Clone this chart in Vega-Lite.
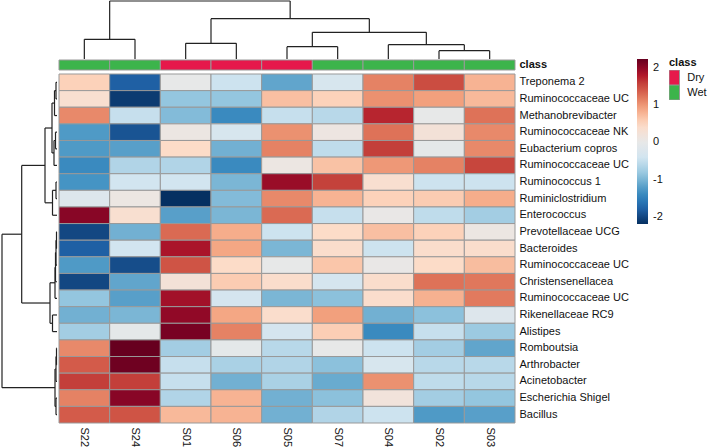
{
  "$schema": "https://vega.github.io/schema/vega-lite/v6.json",
  "width": 515,
  "height": 423,
  "autosize": "none",
  "padding": {"left": 0, "top": 0, "right": 193, "bottom": 24},
  "background": "white",
  "config": {
    "view": {"stroke": null},
    "font": "Liberation Sans"
  },
  "datasets": {
    "cells": [
      {"taxon": "Treponema 2", "sample": "S22", "value": 0.55},
      {"taxon": "Treponema 2", "sample": "S24", "value": -1.8},
      {"taxon": "Treponema 2", "sample": "S01", "value": 0.0},
      {"taxon": "Treponema 2", "sample": "S06", "value": -0.45},
      {"taxon": "Treponema 2", "sample": "S05", "value": -1.15},
      {"taxon": "Treponema 2", "sample": "S07", "value": -0.3},
      {"taxon": "Treponema 2", "sample": "S04", "value": 1.15},
      {"taxon": "Treponema 2", "sample": "S02", "value": 1.5},
      {"taxon": "Treponema 2", "sample": "S03", "value": 0.8},
      {"taxon": "Ruminococcaceae UC|1", "sample": "S22", "value": 0.35},
      {"taxon": "Ruminococcaceae UC|1", "sample": "S24", "value": -2.1},
      {"taxon": "Ruminococcaceae UC|1", "sample": "S01", "value": -0.85},
      {"taxon": "Ruminococcaceae UC|1", "sample": "S06", "value": -0.85},
      {"taxon": "Ruminococcaceae UC|1", "sample": "S05", "value": 0.7},
      {"taxon": "Ruminococcaceae UC|1", "sample": "S07", "value": 0.55},
      {"taxon": "Ruminococcaceae UC|1", "sample": "S04", "value": 1.05},
      {"taxon": "Ruminococcaceae UC|1", "sample": "S02", "value": 0.95},
      {"taxon": "Ruminococcaceae UC|1", "sample": "S03", "value": 0.75},
      {"taxon": "Methanobrevibacter", "sample": "S22", "value": 1.1},
      {"taxon": "Methanobrevibacter", "sample": "S24", "value": -0.5},
      {"taxon": "Methanobrevibacter", "sample": "S01", "value": -0.95},
      {"taxon": "Methanobrevibacter", "sample": "S06", "value": -1.4},
      {"taxon": "Methanobrevibacter", "sample": "S05", "value": -0.5},
      {"taxon": "Methanobrevibacter", "sample": "S07", "value": -0.6},
      {"taxon": "Methanobrevibacter", "sample": "S04", "value": 1.75},
      {"taxon": "Methanobrevibacter", "sample": "S02", "value": 0.0},
      {"taxon": "Methanobrevibacter", "sample": "S03", "value": 1.25},
      {"taxon": "Ruminococcaceae NK", "sample": "S22", "value": -1.25},
      {"taxon": "Ruminococcaceae NK", "sample": "S24", "value": -1.9},
      {"taxon": "Ruminococcaceae NK", "sample": "S01", "value": 0.1},
      {"taxon": "Ruminococcaceae NK", "sample": "S06", "value": -0.3},
      {"taxon": "Ruminococcaceae NK", "sample": "S05", "value": 1.05},
      {"taxon": "Ruminococcaceae NK", "sample": "S07", "value": 0.12},
      {"taxon": "Ruminococcaceae NK", "sample": "S04", "value": 1.25},
      {"taxon": "Ruminococcaceae NK", "sample": "S02", "value": 0.25},
      {"taxon": "Ruminococcaceae NK", "sample": "S03", "value": 1.1},
      {"taxon": "Eubacterium copros", "sample": "S22", "value": -1.25},
      {"taxon": "Eubacterium copros", "sample": "S24", "value": -1.2},
      {"taxon": "Eubacterium copros", "sample": "S01", "value": 0.45},
      {"taxon": "Eubacterium copros", "sample": "S06", "value": -1.05},
      {"taxon": "Eubacterium copros", "sample": "S05", "value": 1.15},
      {"taxon": "Eubacterium copros", "sample": "S07", "value": -0.55},
      {"taxon": "Eubacterium copros", "sample": "S04", "value": 1.6},
      {"taxon": "Eubacterium copros", "sample": "S02", "value": -0.05},
      {"taxon": "Eubacterium copros", "sample": "S03", "value": 1.1},
      {"taxon": "Ruminococcaceae UC|2", "sample": "S22", "value": -1.4},
      {"taxon": "Ruminococcaceae UC|2", "sample": "S24", "value": -0.65},
      {"taxon": "Ruminococcaceae UC|2", "sample": "S01", "value": -0.65},
      {"taxon": "Ruminococcaceae UC|2", "sample": "S06", "value": -1.4},
      {"taxon": "Ruminococcaceae UC|2", "sample": "S05", "value": 0.1},
      {"taxon": "Ruminococcaceae UC|2", "sample": "S07", "value": 0.68},
      {"taxon": "Ruminococcaceae UC|2", "sample": "S04", "value": 1.0},
      {"taxon": "Ruminococcaceae UC|2", "sample": "S02", "value": 1.15},
      {"taxon": "Ruminococcaceae UC|2", "sample": "S03", "value": 1.55},
      {"taxon": "Ruminococcus 1", "sample": "S22", "value": -1.3},
      {"taxon": "Ruminococcus 1", "sample": "S24", "value": -0.4},
      {"taxon": "Ruminococcus 1", "sample": "S01", "value": -0.4},
      {"taxon": "Ruminococcus 1", "sample": "S06", "value": -1.0},
      {"taxon": "Ruminococcus 1", "sample": "S05", "value": 1.95},
      {"taxon": "Ruminococcus 1", "sample": "S07", "value": 1.58},
      {"taxon": "Ruminococcus 1", "sample": "S04", "value": 0.35},
      {"taxon": "Ruminococcus 1", "sample": "S02", "value": -0.45},
      {"taxon": "Ruminococcus 1", "sample": "S03", "value": -0.45},
      {"taxon": "Ruminiclostridium", "sample": "S22", "value": -0.2},
      {"taxon": "Ruminiclostridium", "sample": "S24", "value": 0.1},
      {"taxon": "Ruminiclostridium", "sample": "S01", "value": -2.2},
      {"taxon": "Ruminiclostridium", "sample": "S06", "value": -0.95},
      {"taxon": "Ruminiclostridium", "sample": "S05", "value": 1.1},
      {"taxon": "Ruminiclostridium", "sample": "S07", "value": 0.8},
      {"taxon": "Ruminiclostridium", "sample": "S04", "value": 0.55},
      {"taxon": "Ruminiclostridium", "sample": "S02", "value": 0.6},
      {"taxon": "Ruminiclostridium", "sample": "S03", "value": 0.85},
      {"taxon": "Enterococcus", "sample": "S22", "value": 2.05},
      {"taxon": "Enterococcus", "sample": "S24", "value": 0.35},
      {"taxon": "Enterococcus", "sample": "S01", "value": -1.2},
      {"taxon": "Enterococcus", "sample": "S06", "value": -1.0},
      {"taxon": "Enterococcus", "sample": "S05", "value": 1.3},
      {"taxon": "Enterococcus", "sample": "S07", "value": -0.5},
      {"taxon": "Enterococcus", "sample": "S04", "value": 0.05},
      {"taxon": "Enterococcus", "sample": "S02", "value": -0.55},
      {"taxon": "Enterococcus", "sample": "S03", "value": -0.75},
      {"taxon": "Prevotellaceae UCG", "sample": "S22", "value": -2.0},
      {"taxon": "Prevotellaceae UCG", "sample": "S24", "value": -1.05},
      {"taxon": "Prevotellaceae UCG", "sample": "S01", "value": 1.3},
      {"taxon": "Prevotellaceae UCG", "sample": "S06", "value": 0.85},
      {"taxon": "Prevotellaceae UCG", "sample": "S05", "value": -0.45},
      {"taxon": "Prevotellaceae UCG", "sample": "S07", "value": 0.45},
      {"taxon": "Prevotellaceae UCG", "sample": "S04", "value": 0.7},
      {"taxon": "Prevotellaceae UCG", "sample": "S02", "value": 0.55},
      {"taxon": "Prevotellaceae UCG", "sample": "S03", "value": 0.1},
      {"taxon": "Bacteroides", "sample": "S22", "value": -1.8},
      {"taxon": "Bacteroides", "sample": "S24", "value": -0.4},
      {"taxon": "Bacteroides", "sample": "S01", "value": 1.85},
      {"taxon": "Bacteroides", "sample": "S06", "value": 0.9},
      {"taxon": "Bacteroides", "sample": "S05", "value": -1.0},
      {"taxon": "Bacteroides", "sample": "S07", "value": 0.4},
      {"taxon": "Bacteroides", "sample": "S04", "value": -0.45},
      {"taxon": "Bacteroides", "sample": "S02", "value": 0.4},
      {"taxon": "Bacteroides", "sample": "S03", "value": 0.4},
      {"taxon": "Ruminococcaceae UC|3", "sample": "S22", "value": -1.25},
      {"taxon": "Ruminococcaceae UC|3", "sample": "S24", "value": -1.95},
      {"taxon": "Ruminococcaceae UC|3", "sample": "S01", "value": 1.45},
      {"taxon": "Ruminococcaceae UC|3", "sample": "S06", "value": 0.45},
      {"taxon": "Ruminococcaceae UC|3", "sample": "S05", "value": 0.0},
      {"taxon": "Ruminococcaceae UC|3", "sample": "S07", "value": 0.65},
      {"taxon": "Ruminococcaceae UC|3", "sample": "S04", "value": 0.05},
      {"taxon": "Ruminococcaceae UC|3", "sample": "S02", "value": 0.45},
      {"taxon": "Ruminococcaceae UC|3", "sample": "S03", "value": 0.72},
      {"taxon": "Christensenellacea", "sample": "S22", "value": -2.0},
      {"taxon": "Christensenellacea", "sample": "S24", "value": -1.15},
      {"taxon": "Christensenellacea", "sample": "S01", "value": 0.25},
      {"taxon": "Christensenellacea", "sample": "S06", "value": 0.6},
      {"taxon": "Christensenellacea", "sample": "S05", "value": 0.4},
      {"taxon": "Christensenellacea", "sample": "S07", "value": -0.35},
      {"taxon": "Christensenellacea", "sample": "S04", "value": 0.4},
      {"taxon": "Christensenellacea", "sample": "S02", "value": 1.25},
      {"taxon": "Christensenellacea", "sample": "S03", "value": 1.22},
      {"taxon": "Ruminococcaceae UC|4", "sample": "S22", "value": -0.85},
      {"taxon": "Ruminococcaceae UC|4", "sample": "S24", "value": -1.2},
      {"taxon": "Ruminococcaceae UC|4", "sample": "S01", "value": 1.9},
      {"taxon": "Ruminococcaceae UC|4", "sample": "S06", "value": -0.35},
      {"taxon": "Ruminococcaceae UC|4", "sample": "S05", "value": -1.0},
      {"taxon": "Ruminococcaceae UC|4", "sample": "S07", "value": -0.9},
      {"taxon": "Ruminococcaceae UC|4", "sample": "S04", "value": 0.4},
      {"taxon": "Ruminococcaceae UC|4", "sample": "S02", "value": 0.82},
      {"taxon": "Ruminococcaceae UC|4", "sample": "S03", "value": 1.2},
      {"taxon": "Rikenellaceae RC9", "sample": "S22", "value": -1.05},
      {"taxon": "Rikenellaceae RC9", "sample": "S24", "value": -1.0},
      {"taxon": "Rikenellaceae RC9", "sample": "S01", "value": 2.0},
      {"taxon": "Rikenellaceae RC9", "sample": "S06", "value": 0.9},
      {"taxon": "Rikenellaceae RC9", "sample": "S05", "value": 0.4},
      {"taxon": "Rikenellaceae RC9", "sample": "S07", "value": 0.95},
      {"taxon": "Rikenellaceae RC9", "sample": "S04", "value": -1.05},
      {"taxon": "Rikenellaceae RC9", "sample": "S02", "value": -0.9},
      {"taxon": "Rikenellaceae RC9", "sample": "S03", "value": -0.2},
      {"taxon": "Alistipes", "sample": "S22", "value": -0.75},
      {"taxon": "Alistipes", "sample": "S24", "value": -0.05},
      {"taxon": "Alistipes", "sample": "S01", "value": 2.15},
      {"taxon": "Alistipes", "sample": "S06", "value": 1.15},
      {"taxon": "Alistipes", "sample": "S05", "value": -0.35},
      {"taxon": "Alistipes", "sample": "S07", "value": 0.58},
      {"taxon": "Alistipes", "sample": "S04", "value": -1.4},
      {"taxon": "Alistipes", "sample": "S02", "value": -0.5},
      {"taxon": "Alistipes", "sample": "S03", "value": -0.8},
      {"taxon": "Romboutsia", "sample": "S22", "value": 1.1},
      {"taxon": "Romboutsia", "sample": "S24", "value": 2.25},
      {"taxon": "Romboutsia", "sample": "S01", "value": -0.75},
      {"taxon": "Romboutsia", "sample": "S06", "value": -0.05},
      {"taxon": "Romboutsia", "sample": "S05", "value": -0.6},
      {"taxon": "Romboutsia", "sample": "S07", "value": 0.0},
      {"taxon": "Romboutsia", "sample": "S04", "value": -0.45},
      {"taxon": "Romboutsia", "sample": "S02", "value": -0.75},
      {"taxon": "Romboutsia", "sample": "S03", "value": -1.15},
      {"taxon": "Arthrobacter", "sample": "S22", "value": 1.4},
      {"taxon": "Arthrobacter", "sample": "S24", "value": 2.2},
      {"taxon": "Arthrobacter", "sample": "S01", "value": -0.5},
      {"taxon": "Arthrobacter", "sample": "S06", "value": -0.7},
      {"taxon": "Arthrobacter", "sample": "S05", "value": -0.65},
      {"taxon": "Arthrobacter", "sample": "S07", "value": -0.9},
      {"taxon": "Arthrobacter", "sample": "S04", "value": -0.3},
      {"taxon": "Arthrobacter", "sample": "S02", "value": -0.6},
      {"taxon": "Arthrobacter", "sample": "S03", "value": -0.6},
      {"taxon": "Acinetobacter", "sample": "S22", "value": 1.6},
      {"taxon": "Acinetobacter", "sample": "S24", "value": 1.6},
      {"taxon": "Acinetobacter", "sample": "S01", "value": -0.5},
      {"taxon": "Acinetobacter", "sample": "S06", "value": -1.05},
      {"taxon": "Acinetobacter", "sample": "S05", "value": -0.7},
      {"taxon": "Acinetobacter", "sample": "S07", "value": -1.1},
      {"taxon": "Acinetobacter", "sample": "S04", "value": 1.05},
      {"taxon": "Acinetobacter", "sample": "S02", "value": -0.55},
      {"taxon": "Acinetobacter", "sample": "S03", "value": -0.6},
      {"taxon": "Escherichia Shigel", "sample": "S22", "value": 1.15},
      {"taxon": "Escherichia Shigel", "sample": "S24", "value": 2.05},
      {"taxon": "Escherichia Shigel", "sample": "S01", "value": -0.65},
      {"taxon": "Escherichia Shigel", "sample": "S06", "value": 0.8},
      {"taxon": "Escherichia Shigel", "sample": "S05", "value": -1.05},
      {"taxon": "Escherichia Shigel", "sample": "S07", "value": -0.9},
      {"taxon": "Escherichia Shigel", "sample": "S04", "value": 0.2},
      {"taxon": "Escherichia Shigel", "sample": "S02", "value": -0.75},
      {"taxon": "Escherichia Shigel", "sample": "S03", "value": -0.85},
      {"taxon": "Bacillus", "sample": "S22", "value": 1.4},
      {"taxon": "Bacillus", "sample": "S24", "value": 1.45},
      {"taxon": "Bacillus", "sample": "S01", "value": 0.75},
      {"taxon": "Bacillus", "sample": "S06", "value": 0.8},
      {"taxon": "Bacillus", "sample": "S05", "value": -1.05},
      {"taxon": "Bacillus", "sample": "S07", "value": -0.65},
      {"taxon": "Bacillus", "sample": "S04", "value": -0.45},
      {"taxon": "Bacillus", "sample": "S02", "value": -1.25},
      {"taxon": "Bacillus", "sample": "S03", "value": -1.2}
    ],
    "annotation": [
      {"sample": "S22", "track": "class", "class": "Wet"},
      {"sample": "S24", "track": "class", "class": "Wet"},
      {"sample": "S01", "track": "class", "class": "Dry"},
      {"sample": "S06", "track": "class", "class": "Dry"},
      {"sample": "S05", "track": "class", "class": "Dry"},
      {"sample": "S07", "track": "class", "class": "Wet"},
      {"sample": "S04", "track": "class", "class": "Wet"},
      {"sample": "S02", "track": "class", "class": "Wet"},
      {"sample": "S03", "track": "class", "class": "Wet"}
    ],
    "sampleTree": [
      {"pos": 0.5, "pos2": 0.5, "height": 0, "height2": 1.97},
      {"pos": 1.5, "pos2": 1.5, "height": 0, "height2": 1.97},
      {"pos": 0.5, "pos2": 1.5, "height": 1.97, "height2": 1.97},
      {"pos": 2.5, "pos2": 2.5, "height": 0, "height2": 1.57},
      {"pos": 3.5, "pos2": 3.5, "height": 0, "height2": 1.57},
      {"pos": 2.5, "pos2": 3.5, "height": 1.57, "height2": 1.57},
      {"pos": 4.5, "pos2": 4.5, "height": 0, "height2": 1.23},
      {"pos": 5.5, "pos2": 5.5, "height": 0, "height2": 1.23},
      {"pos": 4.5, "pos2": 5.5, "height": 1.23, "height2": 1.23},
      {"pos": 7.5, "pos2": 7.5, "height": 0, "height2": 0.83},
      {"pos": 8.5, "pos2": 8.5, "height": 0, "height2": 0.83},
      {"pos": 7.5, "pos2": 8.5, "height": 0.83, "height2": 0.83},
      {"pos": 6.5, "pos2": 6.5, "height": 0, "height2": 1.43},
      {"pos": 8.0, "pos2": 8.0, "height": 0.83, "height2": 1.43},
      {"pos": 6.5, "pos2": 8.0, "height": 1.43, "height2": 1.43},
      {"pos": 5.0, "pos2": 5.0, "height": 1.23, "height2": 2.67},
      {"pos": 7.25, "pos2": 7.25, "height": 1.43, "height2": 2.67},
      {"pos": 5.0, "pos2": 7.25, "height": 2.67, "height2": 2.67},
      {"pos": 3.0, "pos2": 3.0, "height": 1.57, "height2": 4.03},
      {"pos": 6.125, "pos2": 6.125, "height": 2.67, "height2": 4.03},
      {"pos": 3.0, "pos2": 6.125, "height": 4.03, "height2": 4.03},
      {"pos": 1.0, "pos2": 1.0, "height": 1.97, "height2": 5.8},
      {"pos": 4.5625, "pos2": 4.5625, "height": 4.03, "height2": 5.8},
      {"pos": 1.0, "pos2": 4.5625, "height": 5.8, "height2": 5.8}
    ],
    "taxonTree": [
      {"pos": 0.5, "pos2": 0.5, "height": 0, "height2": 0.2},
      {"pos": 1.5, "pos2": 1.5, "height": 0, "height2": 0.2},
      {"pos": 0.5, "pos2": 1.5, "height": 0.2, "height2": 0.2},
      {"pos": 1.0, "pos2": 1.0, "height": 0.2, "height2": 0.5},
      {"pos": 2.5, "pos2": 2.5, "height": 0, "height2": 0.5},
      {"pos": 1.0, "pos2": 2.5, "height": 0.5, "height2": 0.5},
      {"pos": 3.5, "pos2": 3.5, "height": 0, "height2": 0.3},
      {"pos": 4.5, "pos2": 4.5, "height": 0, "height2": 0.3},
      {"pos": 3.5, "pos2": 4.5, "height": 0.3, "height2": 0.3},
      {"pos": 4.0, "pos2": 4.0, "height": 0.3, "height2": 0.6},
      {"pos": 5.5, "pos2": 5.5, "height": 0, "height2": 0.6},
      {"pos": 4.0, "pos2": 5.5, "height": 0.6, "height2": 0.6},
      {"pos": 1.75, "pos2": 1.75, "height": 0.5, "height2": 1.0},
      {"pos": 4.75, "pos2": 4.75, "height": 0.6, "height2": 1.0},
      {"pos": 1.75, "pos2": 4.75, "height": 1.0, "height2": 1.0},
      {"pos": 6.5, "pos2": 6.5, "height": 0, "height2": 0.2},
      {"pos": 7.5, "pos2": 7.5, "height": 0, "height2": 0.2},
      {"pos": 6.5, "pos2": 7.5, "height": 0.2, "height2": 0.2},
      {"pos": 7.0, "pos2": 7.0, "height": 0.2, "height2": 0.9},
      {"pos": 8.5, "pos2": 8.5, "height": 0, "height2": 0.9},
      {"pos": 7.0, "pos2": 8.5, "height": 0.9, "height2": 0.9},
      {"pos": 3.25, "pos2": 3.25, "height": 1.0, "height2": 2.4},
      {"pos": 7.75, "pos2": 7.75, "height": 0.9, "height2": 2.4},
      {"pos": 3.25, "pos2": 7.75, "height": 2.4, "height2": 2.4},
      {"pos": 9.5, "pos2": 9.5, "height": 0, "height2": 0.1},
      {"pos": 10.5, "pos2": 10.5, "height": 0, "height2": 0.1},
      {"pos": 9.5, "pos2": 10.5, "height": 0.1, "height2": 0.1},
      {"pos": 10.0, "pos2": 10.0, "height": 0.1, "height2": 0.2},
      {"pos": 11.5, "pos2": 11.5, "height": 0, "height2": 0.2},
      {"pos": 10.0, "pos2": 11.5, "height": 0.2, "height2": 0.2},
      {"pos": 10.75, "pos2": 10.75, "height": 0.2, "height2": 0.3},
      {"pos": 12.5, "pos2": 12.5, "height": 0, "height2": 0.3},
      {"pos": 10.75, "pos2": 12.5, "height": 0.3, "height2": 0.3},
      {"pos": 11.625, "pos2": 11.625, "height": 0.3, "height2": 0.4},
      {"pos": 13.5, "pos2": 13.5, "height": 0, "height2": 0.4},
      {"pos": 11.625, "pos2": 13.5, "height": 0.4, "height2": 0.4},
      {"pos": 14.5, "pos2": 14.5, "height": 0, "height2": 0.9},
      {"pos": 15.5, "pos2": 15.5, "height": 0, "height2": 0.9},
      {"pos": 14.5, "pos2": 15.5, "height": 0.9, "height2": 0.9},
      {"pos": 12.5625, "pos2": 12.5625, "height": 0.4, "height2": 1.4},
      {"pos": 15.0, "pos2": 15.0, "height": 0.9, "height2": 1.4},
      {"pos": 12.5625, "pos2": 15.0, "height": 1.4, "height2": 1.4},
      {"pos": 5.5, "pos2": 5.5, "height": 2.4, "height2": 7.06},
      {"pos": 13.78, "pos2": 13.78, "height": 1.4, "height2": 7.06},
      {"pos": 5.5, "pos2": 13.78, "height": 7.06, "height2": 7.06},
      {"pos": 16.5, "pos2": 16.5, "height": 0, "height2": 0.1},
      {"pos": 17.5, "pos2": 17.5, "height": 0, "height2": 0.1},
      {"pos": 16.5, "pos2": 17.5, "height": 0.1, "height2": 0.1},
      {"pos": 17.0, "pos2": 17.0, "height": 0.1, "height2": 0.2},
      {"pos": 18.5, "pos2": 18.5, "height": 0, "height2": 0.2},
      {"pos": 17.0, "pos2": 18.5, "height": 0.2, "height2": 0.2},
      {"pos": 19.5, "pos2": 19.5, "height": 0, "height2": 0.2},
      {"pos": 20.5, "pos2": 20.5, "height": 0, "height2": 0.2},
      {"pos": 19.5, "pos2": 20.5, "height": 0.2, "height2": 0.2},
      {"pos": 17.75, "pos2": 17.75, "height": 0.2, "height2": 0.4},
      {"pos": 20.0, "pos2": 20.0, "height": 0.2, "height2": 0.4},
      {"pos": 17.75, "pos2": 20.0, "height": 0.4, "height2": 0.4},
      {"pos": 9.64, "pos2": 9.64, "height": 7.06, "height2": 11.0},
      {"pos": 18.875, "pos2": 18.875, "height": 0.4, "height2": 11.0},
      {"pos": 9.64, "pos2": 18.875, "height": 11.0, "height2": 11.0}
    ]
  },
  "layer": [
    {
      "data": {"name": "cells"},
      "mark": {"type": "rect", "stroke": "#999999", "strokeWidth": 1},
      "encoding": {
        "x": {
          "field": "sample", "type": "nominal", "sort": null,
          "scale": {"range": [59, 515], "paddingInner": 0, "paddingOuter": 0},
          "axis": {"orient": "bottom", "title": null, "labelAngle": 90, "tickSize": 0, "domain": false,
                   "labelPadding": 4, "labelFontSize": 11, "labelFont": "Liberation Sans", "labelColor": "#111111"}
        },
        "y": {
          "field": "taxon", "type": "nominal", "sort": null,
          "scale": {"range": [74, 423], "paddingInner": 0, "paddingOuter": 0},
          "axis": {"orient": "right", "title": null, "tickSize": 0, "domain": false, "labelPadding": 4,
                   "labelFontSize": 11, "labelFont": "Liberation Sans", "labelColor": "#111111",
                   "labelExpr": "split(datum.label, '|')[0]"}
        },
        "color": {
          "field": "value", "type": "quantitative",
          "scale": {"type": "linear", "domain": [-2.2, 2.25],
                    "range": ["#053061", "#2166AC", "#4393C3", "#92C5DE", "#D1E5F0", "#E8E8E8", "#FDDBC7", "#F4A582", "#D6604D", "#B2182B", "#67001F"]},
          "legend": {"orient": "none", "legendX": 637, "legendY": 59, "direction": "vertical",
                     "gradientLength": 165, "gradientThickness": 11, "gradientStrokeWidth": 0,
                     "title": null, "values": [-2, -1, 0, 1, 2], "labelFontSize": 11,
                     "labelExpr": "datum.value < 0 ? '-' + abs(datum.value) : '' + datum.value",
                     "labelFont": "Liberation Sans", "labelColor": "#111111", "labelOffset": 5, "padding": 0}
        }
      }
    },
    {
      "data": {"name": "annotation"},
      "mark": {"type": "rect", "stroke": "#999999", "strokeWidth": 1},
      "encoding": {
        "x": {
          "field": "sample", "type": "nominal", "sort": null,
          "scale": {"range": [59, 515], "paddingInner": 0, "paddingOuter": 0},
          "axis": null
        },
        "y": {
          "field": "track", "type": "nominal",
          "scale": {"range": [60, 70], "paddingInner": 0, "paddingOuter": 0},
          "axis": {"orient": "right", "title": null, "tickSize": 0, "domain": false, "labelPadding": 4,
                   "labelFontSize": 11, "labelFontWeight": "bold", "labelFont": "Liberation Sans", "labelColor": "#111111"}
        },
        "color": {
          "field": "class", "type": "nominal",
          "scale": {"domain": ["Dry", "Wet"], "range": ["#E6194B", "#3CB44B"]},
          "legend": {"orient": "none", "legendX": 669, "legendY": 57, "title": "class",
                     "titleFontSize": 11, "titleFontWeight": "bold", "titleFont": "Liberation Sans", "titleColor": "#111111",
                     "titlePadding": 2, "labelFontSize": 11, "labelFont": "Liberation Sans", "labelColor": "#111111",
                     "symbolType": "M-0.7,-1L0.7,-1L0.7,1L-0.7,1Z", "symbolSize": 225, "symbolOffset": -2.75,
                     "symbolStrokeColor": "#999999", "symbolStrokeWidth": 1, "symbolOpacity": 1,
                     "clipHeight": 15, "rowPadding": 0, "labelOffset": 5, "padding": 0}
        }
      }
    },
    {
      "data": {"name": "sampleTree"},
      "mark": {"type": "rule", "color": "#222222", "strokeWidth": 1.2},
      "encoding": {
        "x": {"field": "pos", "type": "quantitative", "scale": {"domain": [0, 9], "range": [59, 515], "nice": false, "zero": false}, "axis": null},
        "x2": {"field": "pos2"},
        "y": {"field": "height", "type": "quantitative", "scale": {"domain": [0, 5.8], "range": [59, 1], "nice": false}, "axis": null},
        "y2": {"field": "height2"}
      }
    },
    {
      "data": {"name": "taxonTree"},
      "mark": {"type": "rule", "color": "#222222", "strokeWidth": 1.2},
      "encoding": {
        "y": {"field": "pos", "type": "quantitative", "scale": {"domain": [0, 21], "range": [74, 423], "nice": false, "zero": false}, "axis": null},
        "y2": {"field": "pos2"},
        "x": {"field": "height", "type": "quantitative", "scale": {"domain": [0, 11], "range": [57, 2], "nice": false}, "axis": null},
        "x2": {"field": "height2"}
      }
    }
  ],
  "resolve": {
    "scale": {"x": "independent", "y": "independent", "color": "independent"},
    "axis": {"x": "independent", "y": "independent"},
    "legend": {"color": "independent"}
  }
}
